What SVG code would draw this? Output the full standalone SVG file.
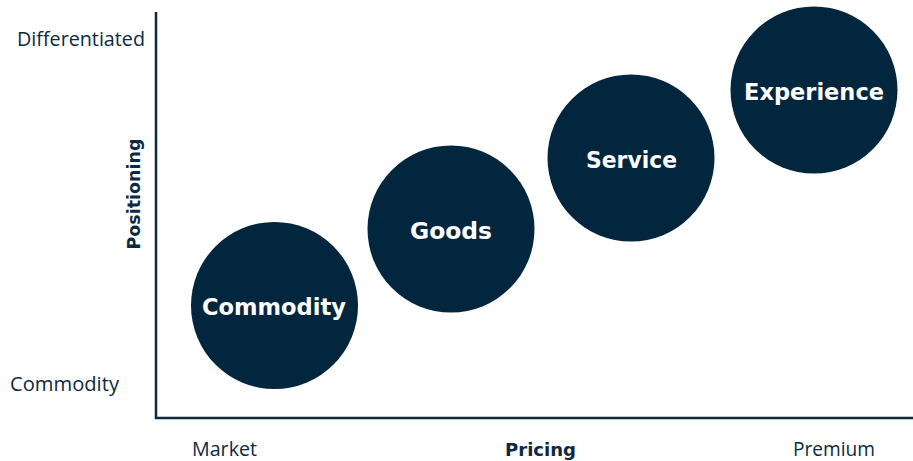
<svg xmlns="http://www.w3.org/2000/svg" width="913" height="461" viewBox="0 0 913 461">
  <style>
    .axis { stroke: #0b2a42; stroke-width: 2.5; fill: none; }
    .tick { font-family: "Open Sans", Lato, sans-serif; font-size: 19.5px; fill: #0b2a42; }
    .title { font-family: "DejaVu Sans", "Open Sans", sans-serif; font-size: 18px; font-weight: bold; fill: #0b2a42; }
    .bubble { fill: #03263f; }
    .label { font-family: "DejaVu Sans", "Open Sans", sans-serif; font-size: 23px; font-weight: bold; fill: #ffffff; text-anchor: middle; }
  </style>
  <rect width="913" height="461" fill="#ffffff"/>

  <!-- axes -->
  <g id="axes">
    <path class="axis" d="M156 12 V418 H913"/>
  </g>

  <!-- axis labels -->
  <g id="axis-labels">
    <text class="tick" x="17" y="46" textLength="128" lengthAdjust="spacingAndGlyphs">Differentiated</text>
    <text class="tick" x="10" y="391" textLength="109" lengthAdjust="spacingAndGlyphs">Commodity</text>
    <text class="tick" x="224.5" y="456" text-anchor="middle" textLength="65" lengthAdjust="spacingAndGlyphs">Market</text>
    <text class="title" x="540.5" y="456" text-anchor="middle" textLength="71" lengthAdjust="spacingAndGlyphs">Pricing</text>
    <text class="tick" x="834" y="456" text-anchor="middle" textLength="82" lengthAdjust="spacingAndGlyphs">Premium</text>
    <text class="title" x="140" y="194" text-anchor="middle" textLength="111" lengthAdjust="spacingAndGlyphs" transform="rotate(-90 140 194)">Positioning</text>
  </g>

  <!-- stages -->
  <g id="commodity">
    <circle class="bubble" cx="274.5" cy="305.5" r="83.5"/>
    <text class="label" x="274" y="315" textLength="144" lengthAdjust="spacingAndGlyphs">Commodity</text>
  </g>
  <g id="goods">
    <circle class="bubble" cx="451" cy="229" r="83.5"/>
    <text class="label" x="451" y="239" textLength="82" lengthAdjust="spacingAndGlyphs">Goods</text>
  </g>
  <g id="service">
    <circle class="bubble" cx="631" cy="158" r="83.5"/>
    <text class="label" x="631.5" y="168" textLength="91" lengthAdjust="spacingAndGlyphs">Service</text>
  </g>
  <g id="experience">
    <circle class="bubble" cx="814" cy="90" r="83.5"/>
    <text class="label" x="814" y="100" textLength="140" lengthAdjust="spacingAndGlyphs">Experience</text>
  </g>
</svg>
